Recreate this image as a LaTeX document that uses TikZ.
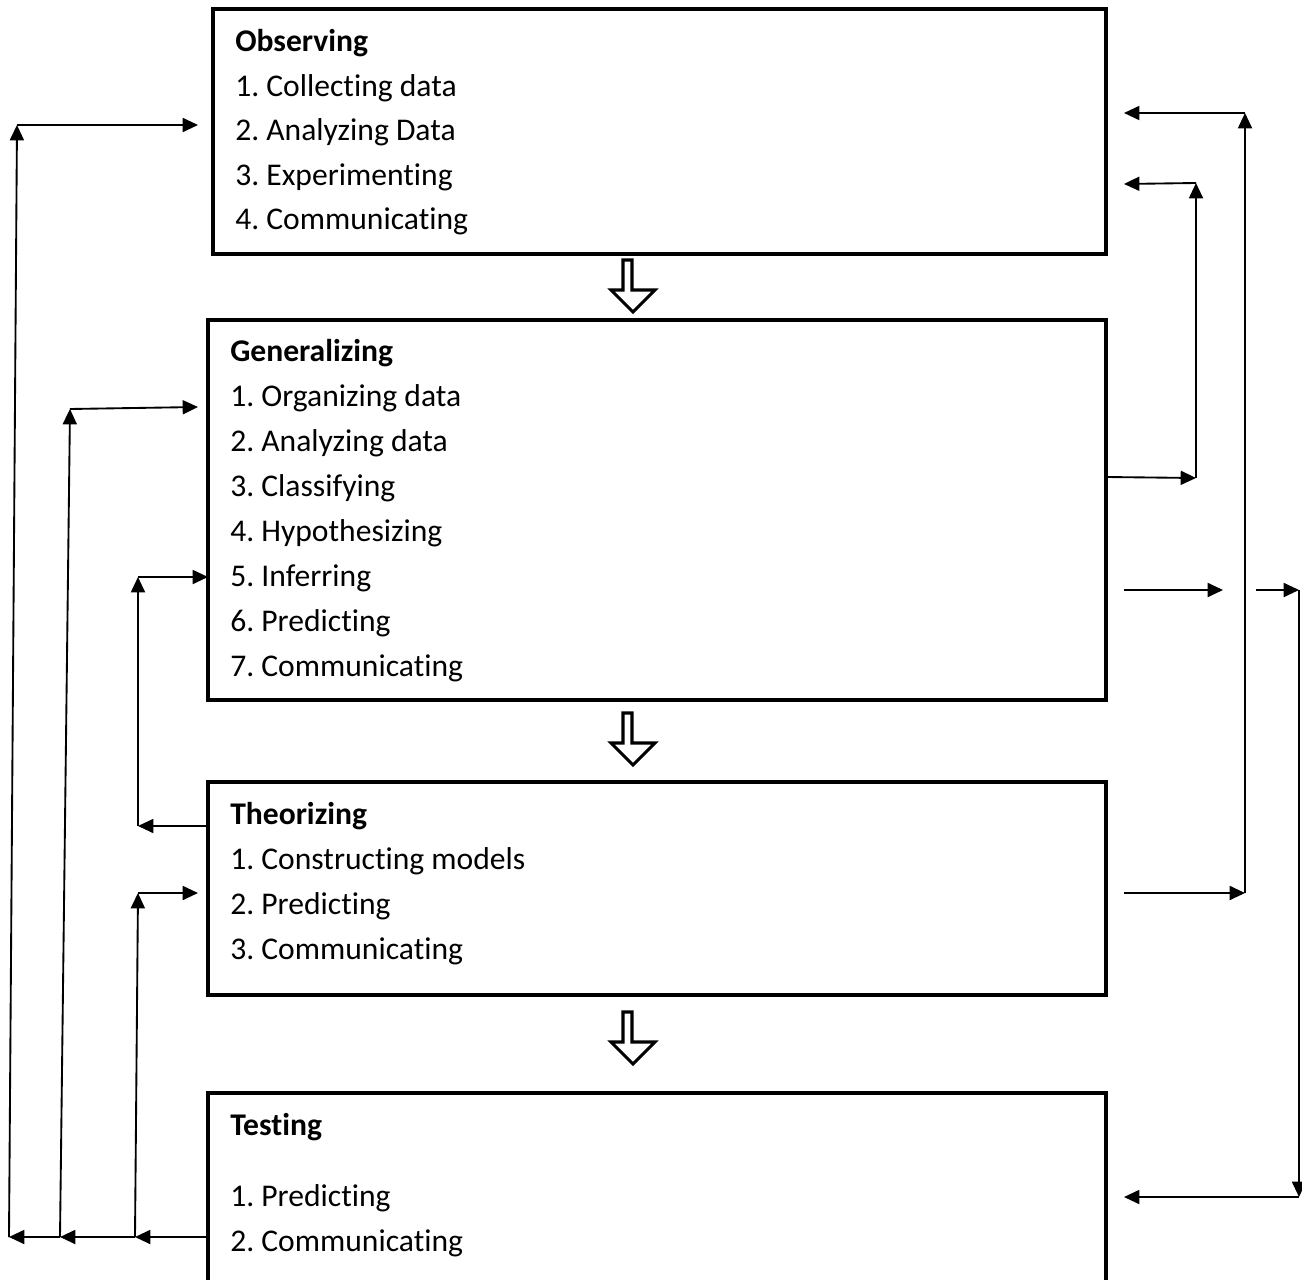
\documentclass[tikz,border=0pt]{standalone}
\usepackage{fontspec}
\setmainfont{Carlito}[Ligatures=NoCommon]
\usetikzlibrary{arrows.meta}
\frenchspacing
\tikzset{
  boxnode/.style={draw, line width=3pt, inner sep=0pt, minimum width=673.5pt},
  txt/.style={anchor=west, inner sep=0pt, font=\fontsize{23.7}{27}\selectfont},
  ttl/.style={txt, font=\fontsize{23.7}{27}\selectfont\bfseries},
  conn/.style={line width=1.4pt, -{Triangle[length=11.5pt,width=10.5pt]}},
  hollow/.style={draw, line width=2.3pt, line join=miter}
}
\begin{document}
\begin{tikzpicture}[x=0.75pt,y=-0.75pt]
\clip (0,0) rectangle (1302,1280);
\fill[white] (0,0) rectangle (1302,1280);

% boxes
\node[boxnode, minimum width=669.75pt, minimum height=183.75pt] (obs) at (659.5,131.5) {};
\node[boxnode, minimum height=285pt] (gen) at (657,510) {};
\node[boxnode, minimum height=159.75pt] (the) at (657,888.5) {};
\node[boxnode, minimum height=165pt] (tst) at (657,1203) {};

% texts
\node[ttl] (o0) at (235,43) {Observing};
\node[txt] (o1) at (235,88) {1. Collecting data};
\node[txt] (o2) at (235,132.5) {2. Analyzing Data};
\node[txt] (o3) at (235,177) {3. Experimenting};
\node[txt] (o4) at (235,221.5) {4. Communicating};

\node[ttl] (g0) at (230,353) {Generalizing};
\node[txt] (g1) at (230,398) {1. Organizing data};
\node[txt] (g2) at (230,443) {2. Analyzing data};
\node[txt] (g3) at (230,488) {3. Classifying};
\node[txt] (g4) at (230,533) {4. Hypothesizing};
\node[txt] (g5) at (230,578) {5. Inferring};
\node[txt] (g6) at (230,623) {6. Predicting};
\node[txt] (g7) at (230,668) {7. Communicating};

\node[ttl] (t0) at (230,816) {Theorizing};
\node[txt] (t1) at (230,861) {1. Constructing models};
\node[txt] (t2) at (230,906) {2. Predicting};
\node[txt] (t3) at (230,951) {3. Communicating};

\node[ttl] (s0) at (230,1127) {Testing};
\node[txt] (s1) at (230,1198) {1. Predicting};
\node[txt] (s2) at (230,1243) {2. Communicating};

% hollow arrows
\foreach \dy/\nm in {0/ha, 453/hb, 752/hc}{
  \draw[hollow] (623,260+\dy) -- (632,260+\dy) -- (632,290+\dy) -- (655,290+\dy)
     -- (633,312+\dy) -- (611,290+\dy) -- (623,290+\dy) -- cycle;
}

% left connectors
\coordinate (tL) at (208,1237);
\coordinate (a1) at (135,1237);
\coordinate (a2) at (60,1237);
\coordinate (a3) at (9,1237);
\coordinate (b1) at (138,893);
\coordinate (b2) at (70,409);
\coordinate (b3) at (17,125);
\coordinate (c1) at (198,893);
\coordinate (c2) at (198,407);
\coordinate (c3) at (198,125);
\draw[conn] (tL) -- (a1);
\draw[conn] (a1) -- (a2);
\draw[conn] (a2) -- (a3);
\draw[conn] (a1) -- (b1);
\draw[conn] (a2) -- (b2);
\draw[conn] (a3) -- (b3);
\draw[conn] (b1) -- (c1);
\draw[conn] (b2) -- (c2);
\draw[conn] (b3) -- (c3);

\coordinate (thL) at (208,826);
\coordinate (d1) at (138,826);
\coordinate (d2) at (138,577);
\coordinate (d3) at (208,577);
\draw[conn] (thL) -- (d1);
\draw[conn] (d1) -- (d2);
\draw[conn] (d2) -- (d3);

% right connectors
\coordinate (gR) at (1106,477);
\coordinate (e1) at (1196,478);
\coordinate (e2) at (1196,183);
\coordinate (e3) at (1124,184);
\draw[conn] (gR) -- (e1);
\draw[conn] (e1) -- (e2);
\draw[conn] (e2) -- (e3);

\coordinate (f0) at (1124,590);
\coordinate (f1) at (1223,590);
\draw[conn] (f0) -- (f1);

\coordinate (h0) at (1256,590);
\coordinate (h1) at (1299,590);
\coordinate (h2) at (1299,1197);
\coordinate (h3) at (1124,1197);
\draw[conn] (h0) -- (h1);
\draw[conn] (h1) -- (h2);
\draw[conn] (h2) -- (h3);

\coordinate (k0) at (1124,893);
\coordinate (k1) at (1245,893);
\coordinate (k2) at (1245,113);
\coordinate (k3) at (1124,113);
\draw[conn] (k0) -- (k1);
\draw[conn] (k1) -- (k2);
\draw[conn] (k2) -- (k3);
\end{tikzpicture}
\end{document}
